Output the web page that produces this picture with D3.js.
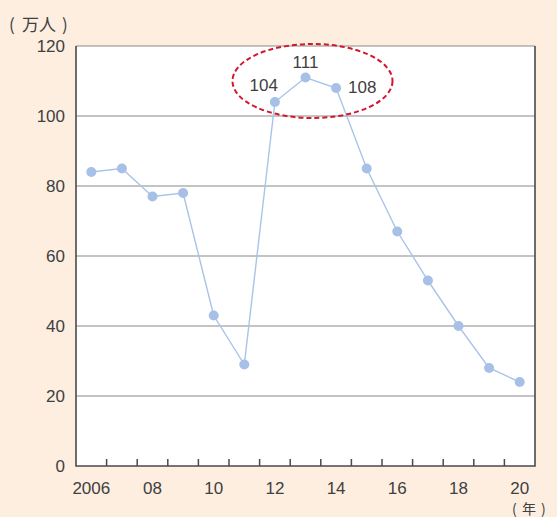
<!DOCTYPE html>
<html>
<head>
<meta charset="utf-8">
<script src="https://cdn.jsdelivr.net/npm/d3@7"></script>
<style>
  html, body { margin: 0; padding: 0; background: #fdeee0; }
  svg { display: block; }
  text { font-family: "Liberation Sans", Arial, sans-serif; fill: #404040; }
  .cjk { font-family: "Noto Sans CJK JP", "Noto Sans CJK SC", sans-serif; }
</style>
</head>
<body>
<svg id="chart" width="557" height="517"></svg>
<script>
// Annual values (万人), 2006–2020
const years = [2006, 2007, 2008, 2009, 2010, 2011, 2012, 2013, 2014, 2015, 2016, 2017, 2018, 2019, 2020];
const values = [84, 85, 77, 78, 43, 29, 104, 111, 108, 85, 67, 53, 40, 28, 24];
const yTicks = [0, 20, 40, 60, 80, 100, 120];
const xLabelYears = [2006, 2008, 2010, 2012, 2014, 2016, 2018, 2020];
const xLabelText = ["2006", "08", "10", "12", "14", "16", "18", "20"];
// Points with printed values and where each label sits relative to its point
const labelledYears = [2012, 2013, 2014];
const labelPlacement = ["left", "top", "right"];

const svg = d3.select("#chart");
const plotL = 76, plotR = 535, plotT = 46, plotB = 466;

const x = d3.scaleBand().domain(years).range([plotL, plotR]);
const y = d3.scaleLinear().domain([0, 120]).range([plotB, plotT]);

// plot background
svg.append("rect")
  .attr("x", plotL).attr("y", plotT)
  .attr("width", plotR - plotL).attr("height", plotB - plotT)
  .attr("fill", "#ffffff");

// horizontal grid lines
svg.append("g").selectAll("line")
  .data(yTicks.filter(d => d > 0 && d < 120))
  .join("line")
  .attr("x1", plotL).attr("x2", plotR)
  .attr("y1", d => y(d)).attr("y2", d => y(d))
  .attr("stroke", "#8a8a8a").attr("stroke-width", 1.2);

// top edge
svg.append("line")
  .attr("x1", plotL).attr("x2", plotR)
  .attr("y1", y(120)).attr("y2", y(120))
  .attr("stroke", "#8a8a8a").attr("stroke-width", 1.2);

// left, right and bottom frame
svg.append("path")
  .attr("d", `M${plotL},${plotT}V${plotB}H${plotR}V${plotT}`)
  .attr("fill", "none").attr("stroke", "#4a4a4a").attr("stroke-width", 1.6);

// x ticks at band boundaries, pointing up into the plot
svg.append("g").selectAll("line")
  .data(years.slice(1))
  .join("line")
  .attr("x1", d => x(d)).attr("x2", d => x(d))
  .attr("y1", plotB).attr("y2", plotB - 7)
  .attr("stroke", "#4a4a4a").attr("stroke-width", 1.5);

// y tick labels
svg.append("g").selectAll("text")
  .data(yTicks)
  .join("text")
  .attr("x", 65).attr("y", d => y(d) + 6)
  .attr("text-anchor", "end")
  .attr("font-size", 17)
  .text(d => d);

// x tick labels
svg.append("g").selectAll("text")
  .data(xLabelYears)
  .join("text")
  .attr("x", d => x(d) + x.bandwidth() / 2)
  .attr("y", 494)
  .attr("text-anchor", "middle")
  .attr("font-size", 17)
  .text((d, i) => xLabelText[i]);

// unit labels
const unitY = svg.append("g").attr("class", "cjk").attr("font-size", 17);
unitY.append("text").attr("class", "cjk").attr("x", 9).attr("y", 31).text("(");
unitY.append("text").attr("class", "cjk").attr("x", 22).attr("y", 31).text("万人");
unitY.append("text").attr("class", "cjk").attr("x", 62).attr("y", 31).text(")");

const unitX = svg.append("g").attr("font-size", 14);
unitX.append("text").attr("class", "cjk").attr("x", 512).attr("y", 514).text("(");
unitX.append("text").attr("class", "cjk").attr("x", 522).attr("y", 514).text("年");
unitX.append("text").attr("class", "cjk").attr("x", 541).attr("y", 514).text(")");

// line and points
const data = years.map((yr, i) => ({ yr, v: values[i] }));
const cx = d => x(d.yr) + x.bandwidth() / 2;

svg.append("path")
  .datum(data)
  .attr("d", d3.line().x(cx).y(d => y(d.v)))
  .attr("fill", "none")
  .attr("stroke", "#a9c4e8")
  .attr("stroke-width", 1.4);

svg.append("g").selectAll("circle")
  .data(data)
  .join("circle")
  .attr("cx", cx).attr("cy", d => y(d.v))
  .attr("r", 5)
  .attr("fill", "#a6c0e6");

// value labels on the peak years
const labelled = data.filter(d => labelledYears.includes(d.yr));
const dx = { left: 3, top: 0, right: 12 };
const dy = { left: -11, top: -9.5, right: 5 };
svg.append("g").selectAll("text")
  .data(labelled)
  .join("text")
  .attr("font-size", 17)
  .attr("text-anchor", (d, i) => ({ left: "end", top: "middle", right: "start" })[labelPlacement[i]])
  .attr("x", (d, i) => cx(d) + dx[labelPlacement[i]])
  .attr("y", (d, i) => y(d.v) + dy[labelPlacement[i]])
  .text(d => d.v);

// dashed ellipse around the peak
const peakX = d3.mean(labelled, cx);
svg.append("ellipse")
  .attr("cx", peakX + 7).attr("cy", 81)
  .attr("rx", 80).attr("ry", 37)
  .attr("fill", "none")
  .attr("stroke", "#d2162e")
  .attr("stroke-width", 2)
  .attr("stroke-dasharray", "5,3");
</script>
</body>
</html>
